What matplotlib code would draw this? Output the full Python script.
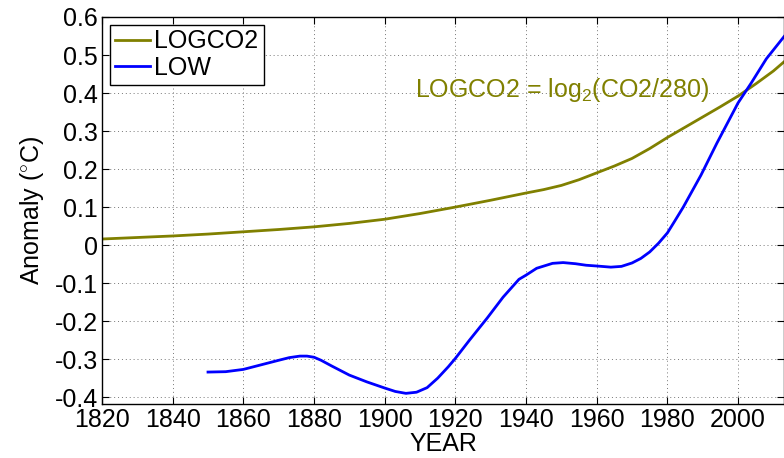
import numpy as np
import matplotlib
matplotlib.use('Agg')
import matplotlib.pyplot as plt

plt.rcParams['font.family'] = ['Liberation Sans', 'DejaVu Sans']
plt.rcParams['mathtext.fontset'] = 'custom'
plt.rcParams['mathtext.rm'] = 'Liberation Sans'
plt.rcParams['mathtext.it'] = 'Liberation Sans'

# LOGCO2 series
co2_years = [1820, 1830, 1840, 1850, 1860, 1870, 1880, 1890, 1900, 1910,
             1920, 1930, 1940, 1945, 1950, 1955, 1960, 1965, 1970, 1975,
             1980, 1985, 1990, 1995, 2000, 2005, 2010, 2014]
co2_vals = [0.016, 0.020, 0.024, 0.029, 0.035, 0.041, 0.048, 0.057, 0.068, 0.083,
            0.100, 0.118, 0.137, 0.146, 0.157, 0.172, 0.190, 0.208, 0.228, 0.254,
            0.283, 0.310, 0.337, 0.364, 0.392, 0.424, 0.458, 0.490]

# LOW smoothed temperature anomaly
low_years = [1850, 1855, 1860, 1865, 1870, 1873, 1876, 1878, 1880, 1882,
             1885, 1890, 1895, 1900, 1903, 1906, 1909, 1912, 1915, 1918,
             1920, 1924, 1929, 1933.5, 1938, 1940, 1943, 1947.5, 1950.5, 1954,
             1957, 1960, 1964, 1967, 1970, 1972.5, 1975, 1977.5, 1980, 1982,
             1984.5, 1987, 1989.5, 1994, 2000, 2003.7, 2008, 2011, 2014]
low_vals = [-0.334, -0.333, -0.327, -0.315, -0.303, -0.296, -0.292, -0.292, -0.295, -0.303,
            -0.318, -0.342, -0.360, -0.376, -0.385, -0.390, -0.387, -0.375, -0.350, -0.320,
            -0.298, -0.250, -0.192, -0.137, -0.090, -0.079, -0.061, -0.048, -0.046, -0.049,
            -0.053, -0.055, -0.058, -0.056, -0.047, -0.035, -0.018, 0.005, 0.032, 0.062,
            0.100, 0.142, 0.184, 0.268, 0.374, 0.426, 0.490, 0.525, 0.560]

xticks = list(range(1820, 2001, 20))
yticks = [-0.4, -0.3, -0.2, -0.1, 0, 0.1, 0.2, 0.3, 0.4, 0.5, 0.6]

olive = '#808000'
fs = 18

fig = plt.figure(figsize=(7.84, 4.58), dpi=100)
ax = fig.add_axes([102/784, 54/458, 682/784, 387/458])

ax.plot(co2_years, co2_vals, color=olive, lw=2, label='LOGCO2')
ax.plot(low_years, low_vals, color='#0000ff', lw=2, label='LOW')

ax.set_xlim(1820, 2013)
ax.set_ylim(-0.418, 0.6)
ax.set_xticks(xticks)
ax.set_yticks(yticks)
ax.set_yticklabels(['%g' % v if v != 0 else '0' for v in yticks])
ax.tick_params(direction='in', length=5, width=0.8, top=True, right=True,
               labelsize=fs, pad=3)
ax.grid(True, linestyle=(0, (1, 3)), color='#777777', linewidth=0.7)
for s in ax.spines.values():
    s.set_linewidth(1.0)

ax.set_xlabel('YEAR', fontsize=fs, labelpad=0)
ax.set_ylabel(r'Anomaly ($^{\circ}$C)', fontsize=fs, labelpad=6)

ax.text(1908.5, 0.39, r'LOGCO2 = log$_2$(CO2/280)', color=olive, fontsize=fs)

leg = ax.legend(loc='upper left', fontsize=fs, fancybox=False, framealpha=1,
                edgecolor='black', handlelength=1.4, handletextpad=0.2,
                borderpad=0.2, labelspacing=0.1, borderaxespad=0.3)
leg.get_frame().set_linewidth(1.0)

fig.savefig('out.png', dpi=100)
